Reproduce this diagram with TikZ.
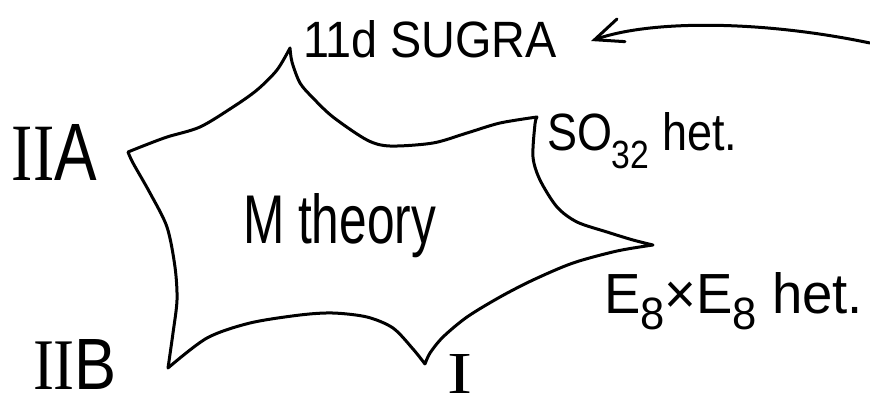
\documentclass[tikz,border=0pt]{standalone}
\usepackage{fontspec}
\usepackage{graphicx}
\usetikzlibrary{arrows.meta}
\setmainfont{Liberation Sans}
\newfontfamily\hand{Liberation Sans}
\newfontfamily\numeralfont{Liberation Serif}

\tikzset{
  outline/.style={line width=3pt, line cap=round, line join=round},
  pointer/.style={line width=3pt, line cap=round,
    -{Straight Barb[length=28pt,width=24pt,line cap=round]}},
  label/.style={inner sep=0pt, outer sep=0pt, anchor=base west,
    font=\hand\fontsize{20}{20}\selectfont},
}

\begin{document}
\begin{tikzpicture}[x=1pt,y=-1pt]
  \useasboundingbox (0,0) rectangle (870,405);

  % corners of the star
  \coordinate (vtop) at (290,48);
  \coordinate (vso)  at (537,117);
  \coordinate (vee)  at (653,245);
  \coordinate (vbot) at (425,364);
  \coordinate (vlb)  at (168,368);
  \coordinate (vla)  at (128,152);

  % concave edges between the corners
  \draw[outline]
    plot[smooth] coordinates {(vtop) (292,62) (300,83) (313,98) (333,117) (367,140) (390,146) (433,143) (467,133) (500,123) (vso)}
    plot[smooth] coordinates {(vso) (535,124) (533,157) (540,180) (557,207) (577,222) (607,232) (633,240) (vee)}
    plot[smooth] coordinates {(vee) (617,251) (573,263) (533,280) (500,297) (467,317) (443,337) (430,353) (vbot)}
    plot[smooth] coordinates {(vbot) (413,349) (393,328) (367,317) (333,313) (300,315) (250,323) (207,338) (vlb)}
    plot[smooth] coordinates {(vlb) (173,333) (177,300) (175,267) (167,227) (150,193) (133,163) (vla)}
    plot[smooth] coordinates {(vla) (143,146) (167,137) (200,127) (233,107) (257,90) (277,70) (vtop)};

  % labels
  \node[label] (sugra) at (303,57) {\resizebox{254pt}{37pt}{11d SUGRA}};
  \node[label] (iia) at (12,180) {\resizebox{85pt}{56pt}{{\numeralfont II}A}};
  \node[label] (iib) at (33,389) {\resizebox{84pt}{50pt}{{\numeralfont II}B}};
  \node[label] (one) at (447,393) {\resizebox{25pt}{39pt}{\numeralfont I}};
  \node[label] (so) at (547,150) {\resizebox{190pt}{38pt}{SO\raisebox{-7pt}{\fontsize{15}{15}\selectfont 32} het.}};
  \node[label] (mth) at (243,243) {\resizebox{193pt}{50pt}{M theory}};
  \node[label] (ee) at (604,313) {\resizebox{259pt}{41pt}{E\raisebox{-6pt}{\fontsize{16}{16}\selectfont 8}×E\raisebox{-6pt}{\fontsize{16}{16}\selectfont 8} het.}};

  % arrow pointing at the 11d supergravity label
  \coordinate (astart) at (870,43);
  \coordinate (aend) at (591,41);
  \draw[pointer] (astart) .. controls (760,20) and (650,20) .. (aend);
\end{tikzpicture}
\end{document}
